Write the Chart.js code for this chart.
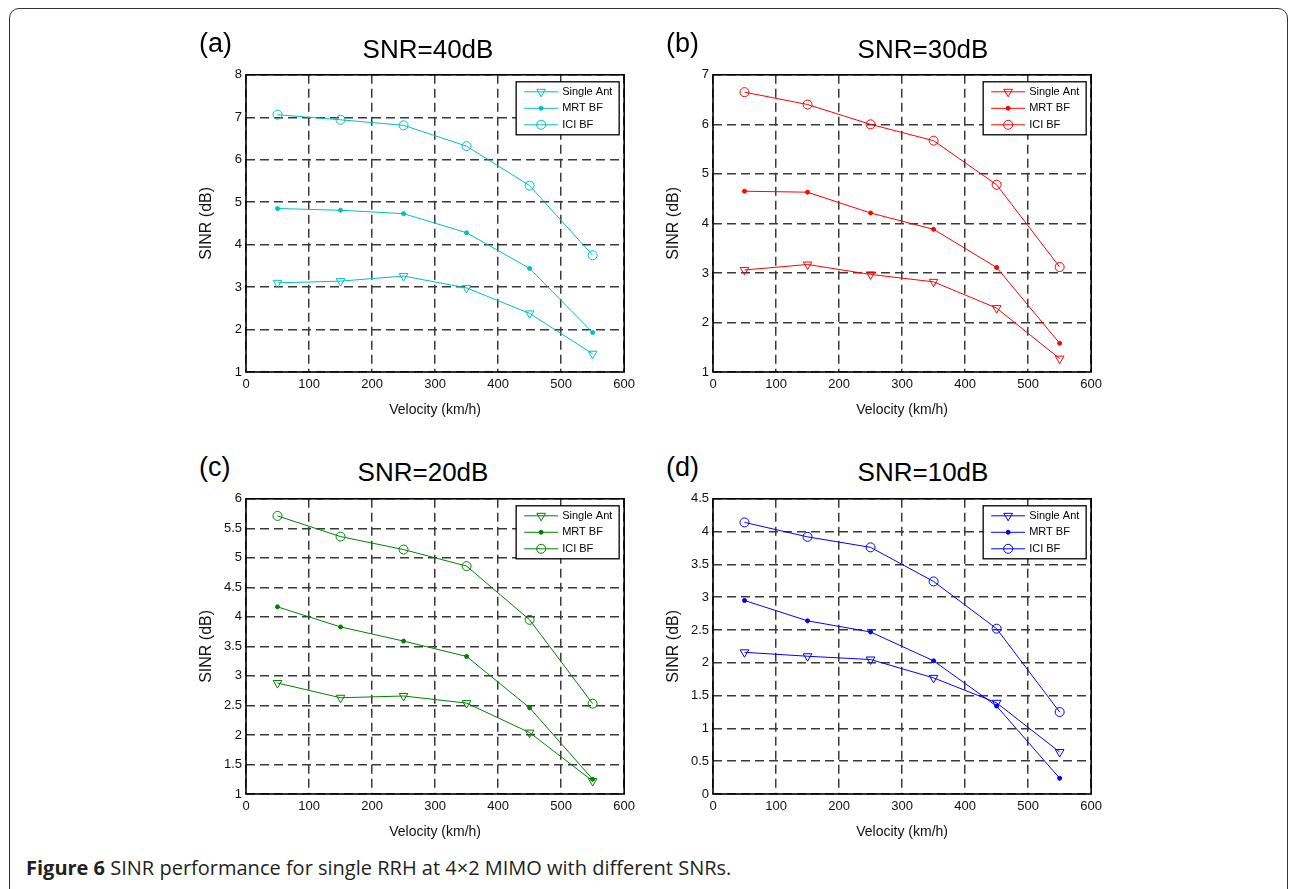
<!DOCTYPE html>
<html>
<head>
<meta charset="utf-8">
<title>Figure 6</title>
<script src="https://cdn.jsdelivr.net/npm/chart.js@4.4.0/dist/chart.umd.min.js"></script>
<style>
  body { margin: 0; background: #fff; font-family: "Liberation Sans", Arial, sans-serif; }
  #page { position: relative; width: 1290px; height: 889px; overflow: hidden; }
  .frame { position: absolute; left: 9px; top: 8px; width: 1277px; height: 1000px;
           border: 1.5px solid #333; border-radius: 10px; }
  canvas { position: absolute; }
  .ttl, .tag { position: absolute; line-height: 1; white-space: nowrap; color: #000; }
  .ttl { font-size: 26px; transform: translate(-50%, -50%); }
  .tag { font-size: 27px; transform: translate(0, -50%); }
  .caption { position: absolute; left: 26px; top: 854px; line-height: 27px; font-family: "Open Sans", sans-serif;
             font-size: 20px; color: #231f20; white-space: nowrap; }
</style>
</head>
<body>
<div id="page">
  <div class="frame"></div>
  <div class="caption"><b>Figure 6</b> SINR performance for single RRH at 4×2 MIMO with different SNRs.</div>
</div>
<script>
const velocity = [50, 150, 250, 350, 450, 550];
const xTicks = [0, 100, 200, 300, 400, 500, 600];
const seriesNames = ["Single Ant", "MRT BF", "ICI BF"];

// (a) SNR = 40 dB
const single40 = [3.10, 3.14, 3.26, 2.98, 2.38, 1.43];
const mrt40 = [4.85, 4.81, 4.73, 4.28, 3.44, 1.93];
const ici40 = [7.06, 6.94, 6.81, 6.32, 5.39, 3.75];
const yTicks40 = [1, 2, 3, 4, 5, 6, 7, 8];

// (b) SNR = 30 dB
const single30 = [3.06, 3.17, 2.97, 2.82, 2.29, 1.27];
const mrt30 = [4.65, 4.63, 4.21, 3.88, 3.11, 1.58];
const ici30 = [6.65, 6.40, 6.00, 5.67, 4.78, 3.12];
const yTicks30 = [1, 2, 3, 4, 5, 6, 7];

// (c) SNR = 20 dB
const single20 = [2.88, 2.63, 2.66, 2.54, 2.04, 1.22];
const mrt20 = [4.17, 3.83, 3.59, 3.33, 2.46, 1.25];
const ici20 = [5.71, 5.36, 5.14, 4.86, 3.95, 2.53];
const yTicks20 = [1, 1.5, 2, 2.5, 3, 3.5, 4, 4.5, 5, 5.5, 6];

// (d) SNR = 10 dB
const single10 = [2.16, 2.10, 2.05, 1.77, 1.39, 0.64];
const mrt10 = [2.95, 2.64, 2.47, 2.03, 1.34, 0.24];
const ici10 = [4.14, 3.92, 3.76, 3.24, 2.52, 1.25];
const yTicks10 = [0, 0.5, 1, 1.5, 2, 2.5, 3, 3.5, 4, 4.5];

const FONT = "'Liberation Sans', Arial, sans-serif";
Chart.defaults.font.family = FONT;
Chart.defaults.color = "#111";

// space around the plot box inside each canvas
const PAD_L = 60, PAD_R = 15, PAD_T = 10, PAD_B = 55;

const panels = [
  { tag: "(a)", title: "SNR=40dB", color: "#00bfbf", series: [single40, mrt40, ici40], yTicks: yTicks40,
    left: 246, top: 73, w: 379, h: 299, titleX: 428, titleY: 49, tagX: 199, tagY: 43 },
  { tag: "(b)", title: "SNR=30dB", color: "#ff0000", series: [single30, mrt30, ici30], yTicks: yTicks30,
    left: 713, top: 73, w: 379, h: 299, titleX: 923, titleY: 49, tagX: 666, tagY: 43 },
  { tag: "(c)", title: "SNR=20dB", color: "#008000", series: [single20, mrt20, ici20], yTicks: yTicks20,
    left: 246, top: 497, w: 379, h: 297, titleX: 423, titleY: 472, tagX: 199, tagY: 467 },
  { tag: "(d)", title: "SNR=10dB", color: "#0000ff", series: [single10, mrt10, ici10], yTicks: yTicks10,
    left: 713, top: 497, w: 379, h: 297, titleX: 923, titleY: 472, tagX: 666, tagY: 467 }
];

// box around the axes plus the legend inside the top right corner
const frameLegend = {
  id: "frameLegend",
  afterDatasetsDraw(chart) {
    const { ctx, chartArea: a } = chart;
    ctx.save();
    ctx.setLineDash([]);
    ctx.strokeStyle = "#000";
    ctx.lineWidth = 1.6;
    ctx.strokeRect(a.left, a.top, a.right - a.left, a.bottom - a.top);

    const bw = 103, bh = 53;
    const bx = a.right - 5 - bw, by = a.top + 7;
    ctx.fillStyle = "#fff";
    ctx.fillRect(bx, by, bw, bh);
    ctx.lineWidth = 1.3;
    ctx.strokeRect(bx, by, bw, bh);

    ctx.font = "11px " + FONT;
    ctx.textBaseline = "middle";
    chart.data.datasets.forEach((ds, i) => {
      const y = by + 10 + i * 16.5;
      ctx.strokeStyle = ds.borderColor;
      ctx.lineWidth = 1;
      ctx.beginPath();
      ctx.moveTo(bx + 8, y);
      ctx.lineTo(bx + 42, y);
      ctx.stroke();
      ctx.fillStyle = ds.pointBackgroundColor;
      Chart.helpers.drawPoint(ctx, {
        pointStyle: ds.pointStyle, rotation: ds.pointRotation,
        radius: ds.pointRadius, borderWidth: 1
      }, bx + 25, y);
      ctx.fillStyle = "#000";
      ctx.fillText(ds.label, bx + 46, y);
    });
    ctx.restore();
  }
};

const page = document.getElementById("page");

function addText(cls, text, x, y) {
  const el = document.createElement("div");
  el.className = cls;
  el.textContent = text;
  el.style.left = x + "px";
  el.style.top = y + "px";
  page.appendChild(el);
}

function makeChart(p) {
  const canvas = document.createElement("canvas");
  canvas.width = p.w + PAD_L + PAD_R;
  canvas.height = p.h + PAD_T + PAD_B;
  canvas.style.left = (p.left - PAD_L) + "px";
  canvas.style.top = (p.top - PAD_T) + "px";
  page.appendChild(canvas);

  addText("ttl", p.title, p.titleX, p.titleY);
  addText("tag", p.tag, p.tagX, p.tagY);

  const markers = [
    { style: "triangle", rotation: 180, radius: 5, fill: "rgba(0,0,0,0)" },
    { style: "circle", rotation: 0, radius: 2, fill: p.color },
    { style: "circle", rotation: 0, radius: 4.5, fill: "rgba(0,0,0,0)" }
  ];

  const gridOpts = { color: "#3a3a3a", lineWidth: 1.5, drawTicks: false };
  const borderOpts = { display: false, dash: [9, 5] };

  new Chart(canvas, {
    type: "line",
    data: {
      datasets: seriesNames.map((name, i) => ({
        label: name,
        data: velocity.map((v, k) => ({ x: v, y: p.series[i][k] })),
        borderColor: p.color,
        borderWidth: 1,
        tension: 0,
        pointStyle: markers[i].style,
        pointRotation: markers[i].rotation,
        pointRadius: markers[i].radius,
        pointBackgroundColor: markers[i].fill,
        pointBorderColor: p.color,
        pointBorderWidth: 1
      }))
    },
    options: {
      responsive: false,
      animation: false,
      layout: { padding: { top: PAD_T, right: PAD_R, left: 0, bottom: 0 } },
      plugins: { legend: { display: false }, tooltip: { enabled: false } },
      scales: {
        x: {
          type: "linear",
          min: xTicks[0],
          max: xTicks[xTicks.length - 1],
          afterBuildTicks: s => { s.ticks = xTicks.map(v => ({ value: v })); },
          afterFit: s => { s.height = PAD_B; },
          ticks: { font: { size: 13 }, padding: 5, maxRotation: 0, callback: v => String(v) },
          grid: gridOpts,
          border: borderOpts,
          title: { display: true, text: "Velocity (km/h)", font: { size: 14 }, padding: { top: 0, bottom: 8 } }
        },
        y: {
          min: p.yTicks[0],
          max: p.yTicks[p.yTicks.length - 1],
          afterBuildTicks: s => { s.ticks = p.yTicks.map(v => ({ value: v })); },
          afterFit: s => { s.width = PAD_L; },
          ticks: { font: { size: 13 }, padding: 4, callback: v => String(v) },
          grid: gridOpts,
          border: borderOpts,
          title: { display: true, text: "SINR (dB)", font: { size: 16 }, padding: { top: 11, bottom: 0 } }
        }
      }
    },
    plugins: [frameLegend]
  });
}

panels.forEach(makeChart);
</script>
</body>
</html>
